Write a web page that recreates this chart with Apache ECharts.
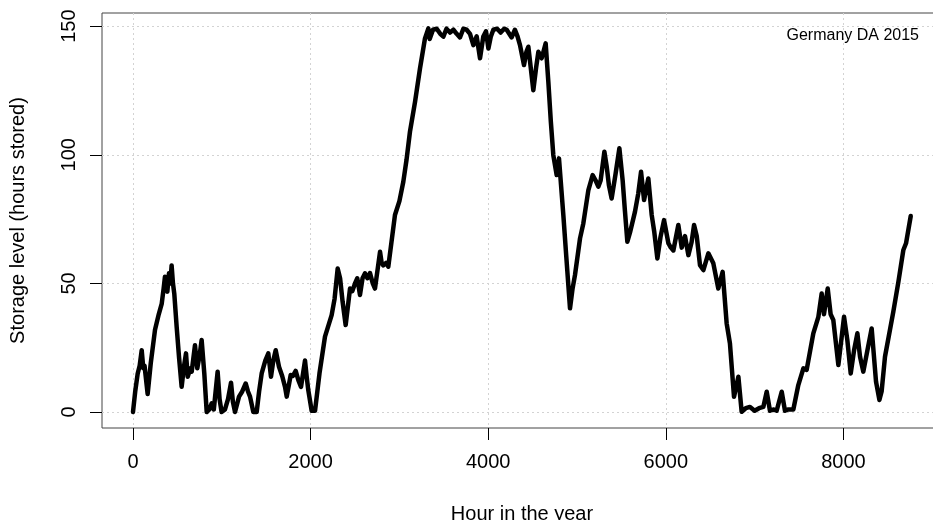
<!DOCTYPE html>
<html>
<head>
<meta charset="utf-8">
<script src="https://cdn.jsdelivr.net/npm/echarts@6/dist/echarts.min.js"></script>
<style>
  html, body { margin: 0; padding: 0; background: #fff; }
  #vis { width: 933px; height: 520px; }
</style>
</head>
<body>
<div id="vis"></div>
<script>
// storage level, hour of year vs hours stored
const hours = [
  0, 25, 53, 75, 98, 116, 130, 143, 165, 200, 248, 290, 323, 345, 360, 387, 405, 420, 435, 450,
  465, 492, 518, 548, 575, 597, 616, 646, 661, 698, 724, 750, 773, 803, 830, 860, 886, 910, 953, 975,
  998, 1036, 1070, 1104, 1125, 1149, 1194, 1230, 1269, 1295, 1318, 1355, 1393, 1420, 1449, 1490, 1524, 1554, 1580, 1607,
  1644, 1680, 1712, 1731, 1776, 1800, 1832, 1862, 1892, 1937, 1955, 1974, 2012, 2031, 2050, 2100, 2162, 2181, 2237, 2270,
  2305, 2332, 2360, 2395, 2444, 2470, 2500, 2526, 2556, 2585, 2613, 2640, 2669, 2700, 2725, 2782, 2800, 2819, 2850, 2875,
  2950, 3000, 3044, 3080, 3119, 3176, 3232, 3288, 3326, 3341, 3378, 3420, 3460, 3495, 3530, 3570, 3608, 3645, 3682, 3720,
  3757, 3795, 3833, 3870, 3908, 3945, 3975, 4002, 4030, 4058, 4100, 4140, 4180, 4208, 4264, 4301, 4330, 4358, 4403, 4430,
  4452, 4508, 4540, 4565, 4602, 4647, 4677, 4705, 4733, 4771, 4797, 4846, 4880, 4921, 4950, 4977, 5034, 5071, 5128, 5176,
  5210, 5240, 5266, 5308, 5334, 5360, 5390, 5435, 5477, 5514, 5540, 5567, 5597, 5653, 5690, 5721, 5755, 5803, 5841, 5870,
  5905, 5940, 5980, 6029, 6055, 6085, 6141, 6179, 6216, 6254, 6290, 6318, 6348, 6385, 6423, 6479, 6535, 6591, 6640, 6685,
  6722, 6768, 6817, 6854, 6900, 6948, 7000, 7050, 7098, 7136, 7173, 7210, 7248, 7305, 7342, 7380, 7436, 7492, 7549, 7586,
  7661, 7718, 7755, 7781, 7823, 7856, 7886, 7943, 8007, 8044, 8082, 8120, 8157, 8187, 8224, 8270, 8318, 8367, 8405, 8430,
  8468, 8562, 8619, 8675, 8705, 8758
];
const levels = [
  0, 8, 15, 18, 24, 17, 18, 17.6, 7, 19, 32, 38, 42, 48, 52.6, 46.8, 53.9, 50, 57, 50,
  46, 33, 21.5, 9.8, 18, 22.8, 13.7, 17, 15.7, 26, 17, 22, 28, 15, 0, 1, 3.4, 1, 15.7, 5,
  0, 1, 5, 11.4, 4, 0, 6, 8, 11.1, 8, 6, 0, 0, 8, 15, 20, 22.8, 13.7, 20, 24,
  17.6, 14, 9.8, 6, 14.4, 14, 16, 12.4, 9.8, 20, 14, 8.5, 0.5, 0.1, 0.5, 15, 29.3, 28.6, 37.7, 44,
  55.8, 52, 43, 33.8, 48, 47, 50, 52, 45.5, 52, 53.9, 52, 54, 50, 48, 62.3, 58, 57, 58, 56.5,
  76.6, 82, 89.5, 98, 109, 120.6, 133.6, 145.2, 149.1, 145, 148.6, 149, 147, 145.9, 149, 147.5, 148.6, 147, 145.6, 149,
  148.6, 147, 142.6, 146, 137.5, 146, 148, 141.3, 146, 148.6, 149, 147.5, 149, 148.6, 145.6, 148.6, 146, 142.6, 134.9, 140,
  142, 125.1, 134, 140, 137.5, 143.3, 128.4, 113, 99.9, 92.1, 98.6, 76.6, 60, 40.3, 48, 53.2, 67.5, 73.3, 86.3, 92.1,
  90, 87.6, 90, 101.2, 95.5, 88, 83, 92.8, 102.5, 90, 78, 66.2, 69.8, 77.9, 85, 93.4, 82.4, 90.8, 76.6, 70,
  59.7, 68, 74.6, 65.6, 64, 62.8, 72.7, 63.9, 68.4, 61, 66, 72.7, 68.4, 57.1, 55.2, 61.7, 57.8, 48, 54.5, 34.5,
  26.7, 5.9, 13.7, 0.1, 1.5, 2, 0.5, 1.5, 2, 7.9, 0.5, 1, 0.5, 7.9, 0.5, 1, 1, 10.5, 17, 16.4,
  30.6, 37, 46.1, 38, 48, 38, 35.8, 18.3, 37, 28, 15, 24, 30.6, 21.5, 15.7, 24, 32.5, 11.8, 4.7, 8,
  21.5, 39, 50.6, 63, 65.6, 76.2
];
const xTicks = [0, 2000, 4000, 6000, 8000];
const yTicks = [0, 50, 100, 150];
const legendText = 'Germany DA 2015';

const FONT = '"Liberation Sans", Arial, sans-serif';

const chart = echarts.init(document.getElementById('vis'), null, { renderer: 'canvas' });

const seriesData = hours.map((h, i) => [h, levels[i]]);

const options = {
  animation: false,
  backgroundColor: '#fff',
  title: {
    text: legendText,
    right: 14,
    top: 28,
    padding: 0,
    textStyle: { fontFamily: FONT, fontSize: 16, fontWeight: 'normal', color: '#000' }
  },
  grid: {
    left: 102, top: 13, right: -9, bottom: 92,
    show: true, borderColor: '#444', borderWidth: 1,
    outerBoundsMode: 'none'
  },
  xAxis: {
    type: 'value',
    min: -349, max: 9110,
    name: 'Hour in the year',
    nameLocation: 'middle',
    nameGap: 76,
    nameTextStyle: { fontFamily: FONT, fontSize: 20, color: '#000' },
    axisLine: { show: false, onZero: false },
    axisTick: { show: true, inside: false, length: 12, customValues: xTicks,
      lineStyle: { color: '#000', width: 1 } },
    axisLabel: { customValues: xTicks, margin: 24, fontFamily: FONT, fontSize: 20, color: '#000',
      formatter: v => String(v) },
    splitLine: { show: true, lineStyle: { color: '#d3d3d3', type: [2, 3], width: 1 } }
  },
  yAxis: {
    type: 'value',
    min: -6.2, max: 155.1,
    name: 'Storage level (hours stored)',
    nameLocation: 'middle',
    nameRotate: 90,
    nameGap: 74,
    nameTextStyle: { fontFamily: FONT, fontSize: 20, color: '#000' },
    axisLine: { show: false, onZero: false },
    axisTick: { show: true, inside: false, length: 12, customValues: yTicks,
      lineStyle: { color: '#000', width: 1 } },
    axisLabel: { customValues: yTicks, rotate: 90, margin: 23, fontFamily: FONT, fontSize: 20, color: '#000',
      formatter: v => String(v) },
    splitLine: { show: true, lineStyle: { color: '#d3d3d3', type: [2, 3], width: 1 } }
  },
  series: [{
    type: 'line',
    data: seriesData,
    showSymbol: false,
    clip: false,
    lineStyle: { color: '#000', width: 4.5, join: 'round', cap: 'round' }
  }]
};

chart.setOption(options);
</script>
</body>
</html>
